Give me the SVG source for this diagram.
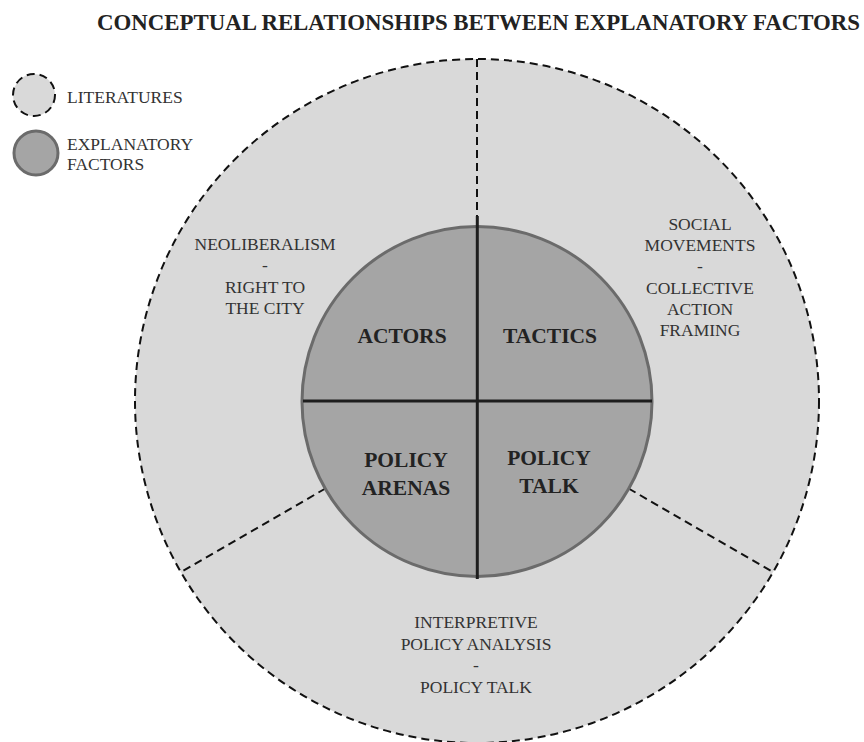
<svg xmlns="http://www.w3.org/2000/svg" width="864" height="742" viewBox="0 0 864 742">
<defs>
<style>
.title{font-family:"Liberation Serif","Times New Roman",serif;font-weight:bold;font-size:22.5px;fill:#222}
.lit{font-family:"Liberation Serif","Times New Roman",serif;font-size:17.5px;fill:#333;text-anchor:middle}
.leg{font-family:"Liberation Serif","Times New Roman",serif;font-size:17.5px;fill:#333}
.fac{font-family:"Liberation Serif","Times New Roman",serif;font-weight:bold;font-size:21.5px;fill:#222;text-anchor:middle}
.dash{fill:none;stroke:#111;stroke-width:2;stroke-dasharray:8 5}
.litfill{fill:#d9d9d9}
.facfill{fill:#a5a5a5;stroke:#6b6b6b;stroke-width:3}
.quad{stroke:#1e1e1e;stroke-width:3;fill:none}
</style>
</defs>
<rect width="864" height="742" fill="#ffffff"/>
<text class="title" x="97" y="30" textLength="763" lengthAdjust="spacingAndGlyphs">CONCEPTUAL RELATIONSHIPS BETWEEN EXPLANATORY FACTORS</text>

<g id="legend">
<circle cx="34" cy="95" r="21" class="litfill"/>
<circle cx="34" cy="95" r="21" class="dash" stroke-dasharray="6 4"/>
<text class="leg" x="67" y="103">LITERATURES</text>
<circle cx="36" cy="153" r="22" class="facfill"/>
<text class="leg" x="67" y="150">EXPLANATORY</text>
<text class="leg" x="67" y="170">FACTORS</text>
</g>

<g id="literatures">
<circle cx="477" cy="401" r="342" class="litfill"/>
<circle cx="477" cy="401" r="342" class="dash"/>
</g>

<g id="connectors">
<line x1="477" y1="59" x2="477" y2="226" class="dash"/>
<line x1="325.4" y1="488.5" x2="181" y2="572" class="dash"/>
<line x1="628.6" y1="488.5" x2="773" y2="572" class="dash"/>
</g>

<g id="lit-neoliberalism">
<text class="lit" x="265" y="250">NEOLIBERALISM</text>
<text class="lit" x="265" y="271">-</text>
<text class="lit" x="265" y="293">RIGHT TO</text>
<text class="lit" x="265" y="314">THE CITY</text>
</g>
<g id="lit-social-movements">
<text class="lit" x="700" y="230">SOCIAL</text>
<text class="lit" x="700" y="251">MOVEMENTS</text>
<text class="lit" x="700" y="272">-</text>
<text class="lit" x="700" y="294">COLLECTIVE</text>
<text class="lit" x="700" y="315">ACTION</text>
<text class="lit" x="700" y="336">FRAMING</text>
</g>
<g id="lit-interpretive">
<text class="lit" x="476" y="628">INTERPRETIVE</text>
<text class="lit" x="476" y="650">POLICY ANALYSIS</text>
<text class="lit" x="476" y="671">-</text>
<text class="lit" x="476" y="693">POLICY TALK</text>
</g>

<g id="factors">
<circle cx="477" cy="401.5" r="175" class="facfill"/>
<line x1="303" y1="401" x2="652" y2="401" class="quad"/>
<line x1="477.3" y1="216" x2="477.3" y2="579" class="quad"/>
</g>
<g id="actors"><text class="fac" x="402" y="343">ACTORS</text></g>
<g id="tactics"><text class="fac" x="550" y="343">TACTICS</text></g>
<g id="policy-arenas">
<text class="fac" x="406" y="467">POLICY</text>
<text class="fac" x="406" y="495">ARENAS</text>
</g>
<g id="policy-talk">
<text class="fac" x="549" y="465">POLICY</text>
<text class="fac" x="549" y="493">TALK</text>
</g>
</svg>
